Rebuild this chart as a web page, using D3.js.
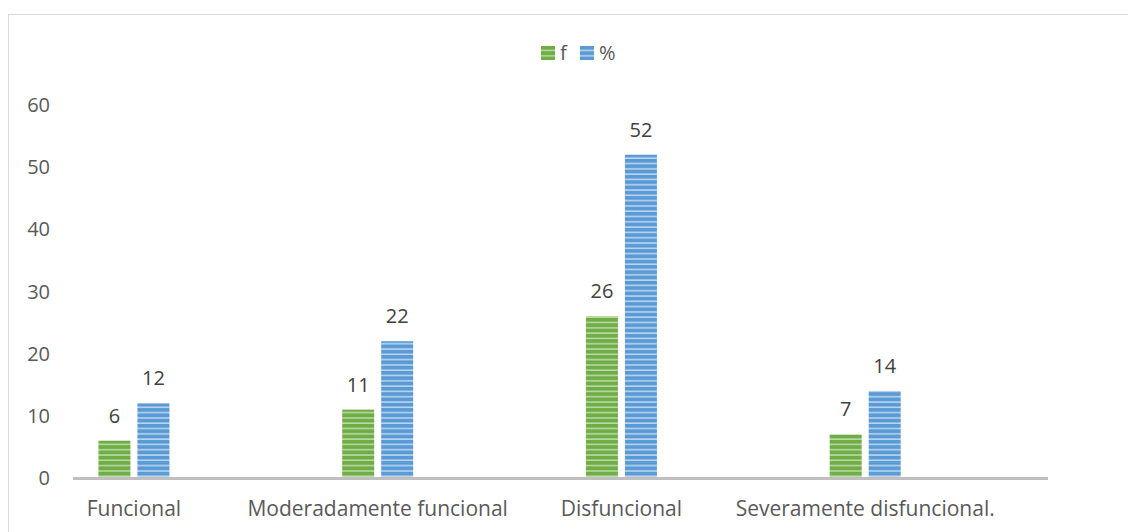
<!DOCTYPE html>
<html>
<head>
<meta charset="utf-8">
<script src="https://cdn.jsdelivr.net/npm/d3@7"></script>
<style>
  body { margin: 0; background: #fff; }
  text { font-family: "Open Sans", "Noto Sans", sans-serif; }
</style>
</head>
<body>
<div id="area"></div>
<script>
// data
const categories = ['Funcional', 'Moderadamente funcional', 'Disfuncional', 'Severamente disfuncional.'];
const series = ['f', '%'];
const f_values = [6, 11, 26, 7];
const pct_values = [12, 22, 52, 14];
const y_ticks = [0, 10, 20, 30, 40, 50, 60];

const width = 1128, height = 532;
const colors = { 'f': '#70AD47', '%': '#5B9BD5' };
const stripe = { 'f': '#BCDBA6', '%': '#BCD6F0' };

const svg = d3.select('#area').append('svg')
    .attr('width', width)
    .attr('height', height);

// chart border (runs off the canvas to the right and bottom)
svg.append('rect')
    .attr('x', 8.5).attr('y', 14.5)
    .attr('width', 1200).attr('height', 600)
    .attr('fill', '#fff')
    .attr('stroke', '#d9d9d9');

// striped fill patterns
const defs = svg.append('defs');
series.forEach((s, i) => {
    const p = defs.append('pattern')
        .attr('id', 'pat' + i)
        .attr('patternUnits', 'userSpaceOnUse')
        .attr('width', 8).attr('height', 5.3);
    p.append('rect').attr('width', 8).attr('height', 5.3).attr('fill', colors[s]);
    p.append('rect').attr('y', 3.8).attr('width', 8).attr('height', 1.5).attr('fill', stripe[s]);
});

const x = d3.scaleBand().domain(categories).range([73, 1048]).padding(0);
const y = d3.scaleLinear().domain([0, 60]).range([478, 105]);
const barW = 32, gap = 7;

// group centre sits a quarter into each band
const cx = c => x(c) + x.bandwidth() * 0.25;

// y tick labels
svg.append('g').selectAll('text')
    .data(y_ticks)
    .join('text')
    .attr('x', 50)
    .attr('y', d => y(d))
    .attr('dy', '0.35em')
    .attr('text-anchor', 'end')
    .attr('font-size', 20)
    .attr('fill', '#595959')
    .text(d => d);

const data = [];
categories.forEach((c, i) => {
    data.push({ c, s: 'f', k: 0, v: f_values[i] });
    data.push({ c, s: '%', k: 1, v: pct_values[i] });
});

const barX = d => d.k === 0 ? cx(d.c) - gap / 2 - barW : cx(d.c) + gap / 2;

svg.append('g').selectAll('rect')
    .data(data)
    .join('rect')
    .attr('x', barX)
    .attr('y', d => y(d.v))
    .attr('width', barW)
    .attr('height', d => y(0) - y(d.v))
    .attr('fill', d => 'url(#pat' + d.k + ')');

// value labels
svg.append('g').selectAll('text')
    .data(data)
    .join('text')
    .attr('x', d => barX(d) + barW / 2)
    .attr('y', d => y(d.v) - 18)
    .attr('text-anchor', 'middle')
    .attr('font-size', 20)
    .attr('fill', '#404040')
    .text(d => d.v);

// x axis line
svg.append('line')
    .attr('x1', 73).attr('x2', 1048)
    .attr('y1', y(0) + 0.5).attr('y2', y(0) + 0.5)
    .attr('stroke', '#bfbfbf')
    .attr('stroke-width', 3);

// category labels
svg.append('g').selectAll('text')
    .data(categories)
    .join('text')
    .attr('x', d => cx(d))
    .attr('y', 516)
    .attr('text-anchor', 'middle')
    .attr('font-size', 21)
    .attr('fill', '#595959')
    .text(d => d);

// legend
const legend = svg.append('g').attr('transform', 'translate(541, 46)');
const lx = [0, 39];
series.forEach((s, i) => {
    const g = legend.append('g').attr('transform', 'translate(' + lx[i] + ',0)');
    g.append('rect')
        .attr('width', 14).attr('height', 14)
        .attr('fill', 'url(#pat' + i + ')');
    g.append('text')
        .attr('x', 19).attr('y', 7)
        .attr('dy', '0.35em')
        .attr('font-size', 20)
        .attr('fill', '#595959')
        .text(s);
});
</script>
</body>
</html>
